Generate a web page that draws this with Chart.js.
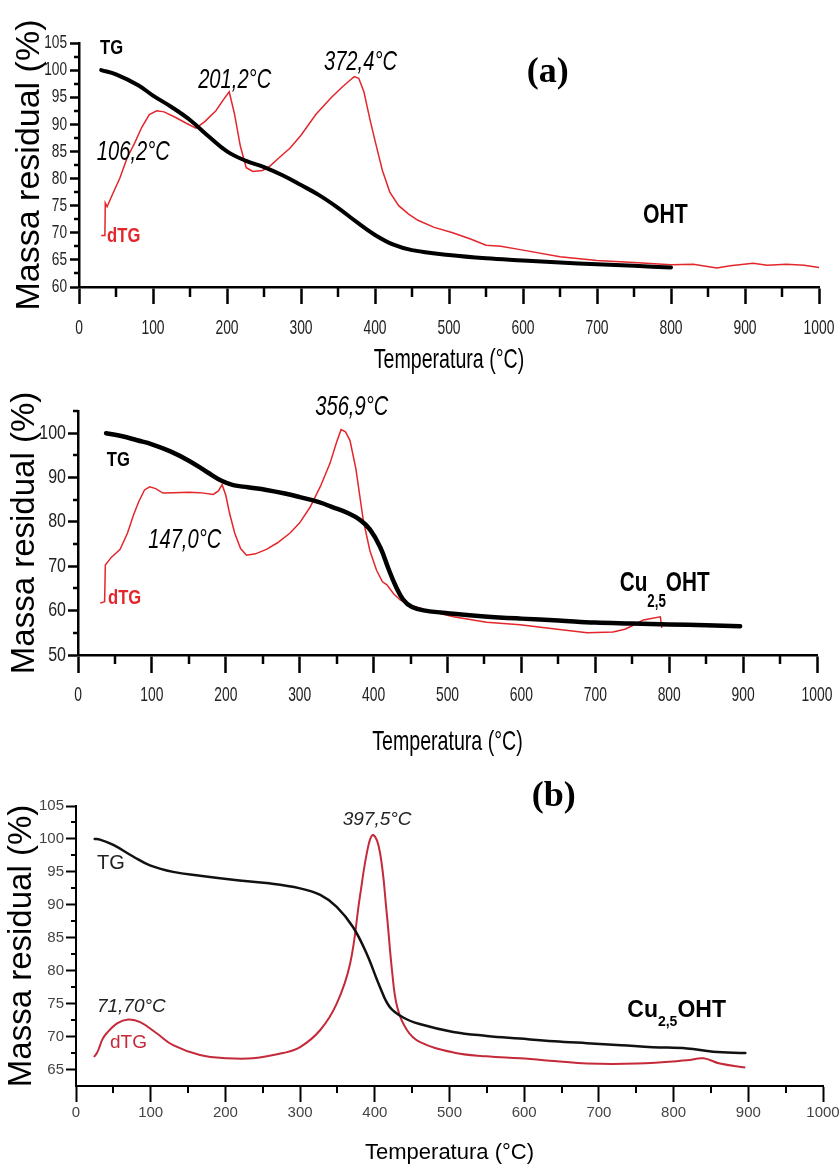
<!DOCTYPE html>
<html>
<head>
<meta charset="utf-8">
<script src="https://cdn.jsdelivr.net/npm/chart.js@4.4.1/dist/chart.umd.min.js"></script>
<style>
  html, body { margin: 0; padding: 0; background: #fff; }
  #wrap { position: relative; width: 839px; height: 1168px; overflow: hidden; }
  canvas { position: absolute; left: 0; }
</style>
</head>
<body>
<div id="wrap">
  <canvas id="c1" width="839" height="385" style="top:0px"></canvas>
  <canvas id="c2" width="839" height="385" style="top:385px"></canvas>
  <canvas id="c3" width="839" height="398" style="top:770px"></canvas>
</div>
<script>
// eixos (todos os painéis)
const xTicks = [0, 100, 200, 300, 400, 500, 600, 700, 800, 900, 1000];
const xMinor = [50, 150, 250, 350, 450, 550, 650, 750, 850, 950];
const yTicks1 = [60, 65, 70, 75, 80, 85, 90, 95, 100, 105];
const yMinor1 = [62.5, 67.5, 72.5, 77.5, 82.5, 87.5, 92.5, 97.5, 102.5];
const yTicks2 = [50, 60, 70, 80, 90, 100];
const yMinor2 = [55, 65, 75, 85, 95, 105];
const yTicks3 = [65, 70, 75, 80, 85, 90, 95, 100, 105];
const yMinor3 = [67.5, 72.5, 77.5, 82.5, 87.5, 92.5, 97.5, 102.5];

// painel 1 - OHT
const tgTemp1 = [30, 50, 80, 100, 125, 150, 175, 200, 225, 250, 275, 300, 325, 350, 375, 400, 425, 450, 500, 550, 600, 650, 700, 750, 800];
const tgMass1 = [100, 99.2, 97.2, 95.3, 93.2, 90.8, 87.8, 85.0, 83.3, 82.1, 80.6, 78.8, 76.9, 74.6, 72.0, 69.6, 67.8, 66.8, 65.9, 65.3, 64.9, 64.5, 64.2, 63.9, 63.6];
const dtgTemp1 = [30, 35, 35.5, 38, 45, 55, 65, 75, 85, 95, 105, 115, 130, 145, 158, 170, 185, 195, 203, 210, 218, 226, 235, 248, 258, 270, 285, 300, 320, 340, 355, 365, 372, 378, 385, 393, 400, 410, 420, 432, 445, 458, 480, 505, 530, 550, 570, 600, 650, 700, 750, 800, 830, 862, 880, 911, 930, 956, 980, 1000];
const dtgVal1 = [69.5, 69.5, 75.5, 74.8, 77, 80, 83.8, 86.5, 89.5, 91.8, 92.5, 92.3, 91.3, 90.2, 89.3, 90.5, 92.5, 94.5, 96, 92, 86, 82, 81.3, 81.5, 82.3, 83.8, 85.6, 88, 91.8, 94.8, 96.8, 98, 98.8, 98.5, 96, 91, 87, 81.5, 77.5, 75, 73.5, 72.3, 71, 70, 68.8, 67.7, 67.5, 66.8, 65.6, 64.9, 64.5, 64.1, 64.2, 63.5, 63.9, 64.4, 64, 64.2, 64, 63.6];

// painel 2 - Cu2,5OHT
const tgTemp2 = [38, 60, 80, 100, 125, 150, 175, 195, 210, 230, 255, 280, 300, 325, 345, 365, 382, 395, 409, 420, 430, 440, 452, 470, 508, 550, 600, 650, 700, 750, 800, 850, 896];
const tgMass2 = [100, 99.3, 98.4, 97.5, 95.9, 93.8, 91.2, 89.2, 88.3, 87.8, 87.2, 86.4, 85.6, 84.5, 83.3, 82.0, 80.4, 78.3, 74.3, 69.5, 65.5, 62.5, 60.8, 60.0, 59.3, 58.7, 58.2, 57.8, 57.3, 57.1, 56.9, 56.7, 56.5];
const dtgTemp2 = [30, 36, 37, 45, 57, 67, 75, 82, 90, 97, 105, 115, 130, 150, 165, 183, 190, 195, 200, 205, 212, 220, 228, 240, 255, 270, 287, 300, 314, 328, 341, 350, 356, 362, 368, 376, 386, 395, 404, 412, 418, 427, 436, 450, 470, 508, 553, 598, 643, 689, 724, 740, 750, 765, 788, 790];
const dtgVal2 = [61.7, 62, 70.3, 72, 73.8, 77.5, 81.5, 84.5, 87.2, 87.9, 87.5, 86.5, 86.6, 86.7, 86.6, 86.2, 87, 88.4, 86, 82, 77.5, 74, 72.5, 72.8, 73.8, 75.3, 77.5, 79.8, 83.3, 88, 93.2, 98, 100.8, 100.3, 98.4, 92, 80.4, 73.5, 69.1, 66.5, 65.8, 63.8, 62.4, 61.2, 60.2, 58.6, 57.4, 56.8, 55.9, 55, 55.2, 55.8, 56.6, 57.9, 58.6, 56.1];

// painel 3 - Cu2,5OHT (b)
const tgTemp3 = [25, 32, 50, 77, 99, 130, 166, 210, 255, 300, 327, 349, 371, 389, 407, 420, 438, 460, 505, 550, 594, 640, 684, 730, 772, 818, 853, 896];
const tgMass3 = [100, 99.9, 99.1, 97.3, 96, 95, 94.4, 93.8, 93.3, 92.5, 91.5, 89.7, 86.6, 82.6, 77.5, 74.5, 72.9, 71.9, 70.7, 70.1, 69.7, 69.3, 69.0, 68.7, 68.4, 68.2, 67.7, 67.5];
const dtgTemp3 = [24, 28, 32, 35, 41, 55, 70, 86, 108, 130, 166, 202, 237, 277, 300, 327, 349, 367, 380, 391, 398, 407, 416, 423, 430, 443, 460, 505, 550, 594, 640, 684, 751, 818, 840, 862, 896];
const dtgVal3 = [66.9, 67.5, 68.6, 69.5, 70.5, 72, 72.6, 72.2, 70.5, 68.7, 67.2, 66.7, 66.7, 67.5, 68.4, 71, 75, 81.1, 91.2, 98.8, 100.6, 97.9, 88.7, 80.1, 74.5, 71, 69.2, 67.6, 67.0, 66.7, 66.3, 65.9, 65.9, 66.4, 66.7, 65.9, 65.3];

const SANS = "'Liberation Sans', Arial, sans-serif";
const SERIF = "'Liberation Serif', 'Times New Roman', serif";
const X_TITLE = 'Temperatura (°C)';

const pts = (xs, ys) => xs.map((x, i) => ({ x: x, y: ys[i] }));

// texto comprimido na horizontal (a fonte original é "narrow")
function squeezed(ctx, parts, x, y, sx, align) {
  ctx.save();
  let w = 0;
  parts.forEach(p => { ctx.font = p.font; w += ctx.measureText(p.t).width; });
  let px = align === 'right' ? -w : align === 'center' ? -w / 2 : 0;
  ctx.translate(x, y);
  ctx.scale(sx, 1);
  ctx.textAlign = 'left';
  ctx.textBaseline = 'middle';
  parts.forEach(p => {
    ctx.font = p.font;
    ctx.fillStyle = p.color;
    ctx.fillText(p.t, px, p.dy || 0);
    px += ctx.measureText(p.t).width;
  });
  ctx.restore();
}

// ticks menores, rótulos dos ticks, título do eixo x e anotações
const extras = {
  id: 'extras',
  afterDraw(chart, args, o) {
    const ctx = chart.ctx, xs = chart.scales.x, ys = chart.scales.y;
    ctx.save();
    ctx.strokeStyle = '#000';
    ctx.lineWidth = o.minorW;
    o.xMinor.forEach(v => {
      const px = Math.round(xs.getPixelForValue(v));
      ctx.beginPath(); ctx.moveTo(px, xs.top); ctx.lineTo(px, xs.top + o.xMinorLen); ctx.stroke();
    });
    o.yMinor.forEach(v => {
      const py = Math.round(ys.getPixelForValue(v));
      ctx.beginPath(); ctx.moveTo(ys.right, py); ctx.lineTo(ys.right - o.yMinorLen, py); ctx.stroke();
    });
    ctx.restore();

    const t = o.tickText;
    xs.ticks.forEach(tk => {
      squeezed(ctx, [{ t: String(tk.value), font: t.xFont, color: t.color }],
        xs.getPixelForValue(tk.value), xs.top + t.xDy, t.xSx, 'center');
    });
    ys.ticks.forEach(tk => {
      squeezed(ctx, [{ t: String(tk.value), font: t.yFont, color: t.color }],
        ys.right - t.yDx, ys.getPixelForValue(tk.value), t.ySx, 'right');
    });
    squeezed(ctx, [{ t: X_TITLE, font: o.xTitle.font, color: '#000' }],
      (chart.chartArea.left + chart.chartArea.right) / 2, xs.top + o.xTitle.dy, o.xTitle.sx, 'center');

    o.labels.forEach(l => {
      const parts = (l.parts || [{ t: l.text }]).map(p => ({
        t: p.t, font: p.sub ? l.subFont : l.font, color: l.color || '#000', dy: p.sub ? l.subDy : 0
      }));
      squeezed(ctx, parts, xs.getPixelForValue(l.x), ys.getPixelForValue(l.y), l.sx || 1, 'left');
    });
  }
};

function panel(id, o) {
  return new Chart(document.getElementById(id), {
    type: 'scatter',
    data: {
      datasets: [
        { label: 'TG', data: pts(o.tgT, o.tgM), showLine: true, borderColor: o.tgColor, borderWidth: o.tgW,
          borderCapStyle: 'round', pointRadius: 0, tension: 0.4 },
        { label: 'dTG', data: pts(o.dT, o.dV), showLine: true, borderColor: o.dColor, borderWidth: o.dW,
          pointRadius: 0, tension: o.dTension }
      ]
    },
    options: {
      responsive: false,
      animation: false,
      layout: { padding: o.pad },
      plugins: {
        legend: { display: false },
        tooltip: { enabled: false },
        extras: {
          xMinor: xMinor, yMinor: o.yMinor, xMinorLen: o.xMinorLen, yMinorLen: o.yMinorLen, minorW: o.tickW,
          tickText: o.tickText, xTitle: o.xTitle, labels: o.labels
        }
      },
      scales: {
        x: {
          type: 'linear', min: 0, max: 1000,
          afterBuildTicks: s => { s.ticks = xTicks.map(v => ({ value: v })); },
          afterFit: s => { s.height = o.xH; },
          border: { color: '#000', width: o.axisW },
          grid: { drawOnChartArea: false, tickLength: o.xTickLen, tickColor: '#000', tickWidth: o.tickW },
          ticks: { display: false }
        },
        y: {
          type: 'linear', min: o.yMin, max: 105,
          afterBuildTicks: s => { s.ticks = o.yTicks.map(v => ({ value: v })); },
          afterFit: s => { s.width = o.yW; },
          border: { color: '#000', width: o.axisW },
          grid: { drawOnChartArea: false, tickLength: o.yTickLen, tickColor: '#000', tickWidth: o.tickW },
          ticks: { display: false },
          title: { display: true, text: 'Massa residual (%)', color: '#000', font: o.yTitleFont, padding: { top: o.yTitlePad, bottom: 0 } }
        }
      }
    },
    plugins: [extras]
  });
}

panel('c1', {
  tgT: tgTemp1, tgM: tgMass1, dT: dtgTemp1, dV: dtgVal1,
  tgColor: '#000', tgW: 4, dColor: '#e3262b', dW: 1.5, dTension: 0,
  pad: { top: 43, right: 20, left: 0, bottom: 0 },
  yMin: 60, yTicks: yTicks1, yMinor: yMinor1,
  xH: 98, yW: 79, axisW: 2.5, tickW: 2.5,
  xTickLen: 17, xMinorLen: 10, yTickLen: 9, yMinorLen: 5,
  tickText: { xFont: '21px ' + SANS, xSx: 0.66, xDy: 41, yFont: '19px ' + SANS, ySx: 0.72, yDx: 12, color: '#222' },
  xTitle: { font: '28px ' + SANS, sx: 0.7, dy: 73 },
  yTitlePad: 9,
  yTitleFont: { family: SANS, size: 34 },
  labels: [
    { text: 'TG', x: 28.4, y: 104.1, font: 'bold 21px ' + SANS, sx: 0.79 },
    { text: '201,2°C', x: 161, y: 98.2, font: 'italic 28px ' + SANS, sx: 0.72 },
    { text: '372,4°C', x: 331, y: 101.5, font: 'italic 28px ' + SANS, sx: 0.72 },
    { text: '106,2°C', x: 24, y: 84.9, font: 'italic 28px ' + SANS, sx: 0.72 },
    { text: 'dTG', x: 38, y: 69.4, font: 'bold 21px ' + SANS, sx: 0.79, color: '#e3262b' },
    { text: '(a)', x: 605, y: 99.5, font: 'bold 36px ' + SERIF },
    { text: 'OHT', x: 762, y: 73.3, font: 'bold 28px ' + SANS, sx: 0.76 }
  ]
});

panel('c2', {
  tgT: tgTemp2, tgM: tgMass2, dT: dtgTemp2, dV: dtgVal2,
  tgColor: '#000', tgW: 4.5, dColor: '#e3262b', dW: 1.5, dTension: 0,
  pad: { top: 26, right: 22, left: 0, bottom: 0 },
  yMin: 50, yTicks: yTicks2, yMinor: yMinor2,
  xH: 115, yW: 78, axisW: 2.5, tickW: 2.5,
  xTickLen: 18, xMinorLen: 9, yTickLen: 10, yMinorLen: 5,
  tickText: { xFont: '21px ' + SANS, xSx: 0.66, xDy: 40, yFont: '20px ' + SANS, ySx: 0.8, yDx: 12, color: '#222' },
  xTitle: { font: '28px ' + SANS, sx: 0.7, dy: 87 },
  yTitlePad: 5,
  yTitleFont: { family: SANS, size: 33 },
  labels: [
    { text: '356,9°C', x: 321, y: 105.9, font: 'italic 28px ' + SANS, sx: 0.72 },
    { text: 'TG', x: 39, y: 93.9, font: 'bold 21px ' + SANS, sx: 0.79 },
    { text: '147,0°C', x: 95, y: 75.9, font: 'italic 28px ' + SANS, sx: 0.72 },
    { text: 'dTG', x: 40.6, y: 62.8, font: 'bold 21px ' + SANS, sx: 0.79, color: '#e3262b' },
    { parts: [{ t: 'Cu' }, { t: '2,5', sub: true }, { t: 'OHT' }], x: 733, y: 66.2, sx: 0.74,
      font: 'bold 28px ' + SANS, subFont: 'bold 18px ' + SANS, subDy: 19 }
  ]
});

panel('c3', {
  tgT: tgTemp3, tgM: tgMass3, dT: dtgTemp3, dV: dtgVal3,
  tgColor: '#111', tgW: 2.5, dColor: '#c42a3a', dW: 2, dTension: 0.4,
  pad: { top: 36, right: 16, left: 0, bottom: 0 },
  yMin: 62.5, yTicks: yTicks3, yMinor: yMinor3,
  xH: 82, yW: 76, axisW: 2, tickW: 2,
  xTickLen: 16, xMinorLen: 7, yTickLen: 10, yMinorLen: 5,
  tickText: { xFont: '15px ' + SANS, xSx: 1, xDy: 27, yFont: '15px ' + SANS, ySx: 1, yDx: 12, color: '#444' },
  xTitle: { font: '22px ' + SANS, sx: 1, dy: 67 },
  yTitlePad: 2,
  yTitleFont: { family: SANS, size: 33 },
  labels: [
    { text: '397,5°C', x: 357, y: 102.9, font: 'italic 19px ' + SANS, color: '#222' },
    { text: 'TG', x: 28, y: 96.3, font: '20px ' + SANS, color: '#222' },
    { text: '71,70°C', x: 28, y: 74.5, font: 'italic 19px ' + SANS, color: '#222' },
    { text: 'dTG', x: 45.5, y: 69, font: '19px ' + SANS, color: '#c42a3a' },
    { text: '(b)', x: 610, y: 106.4, font: 'bold 36px ' + SERIF },
    { parts: [{ t: 'Cu' }, { t: '2,5', sub: true }, { t: 'OHT' }], x: 738, y: 74,
      font: 'bold 23px ' + SANS, subFont: 'bold 14px ' + SANS, subDy: 12 }
  ]
});
</script>
</body>
</html>
